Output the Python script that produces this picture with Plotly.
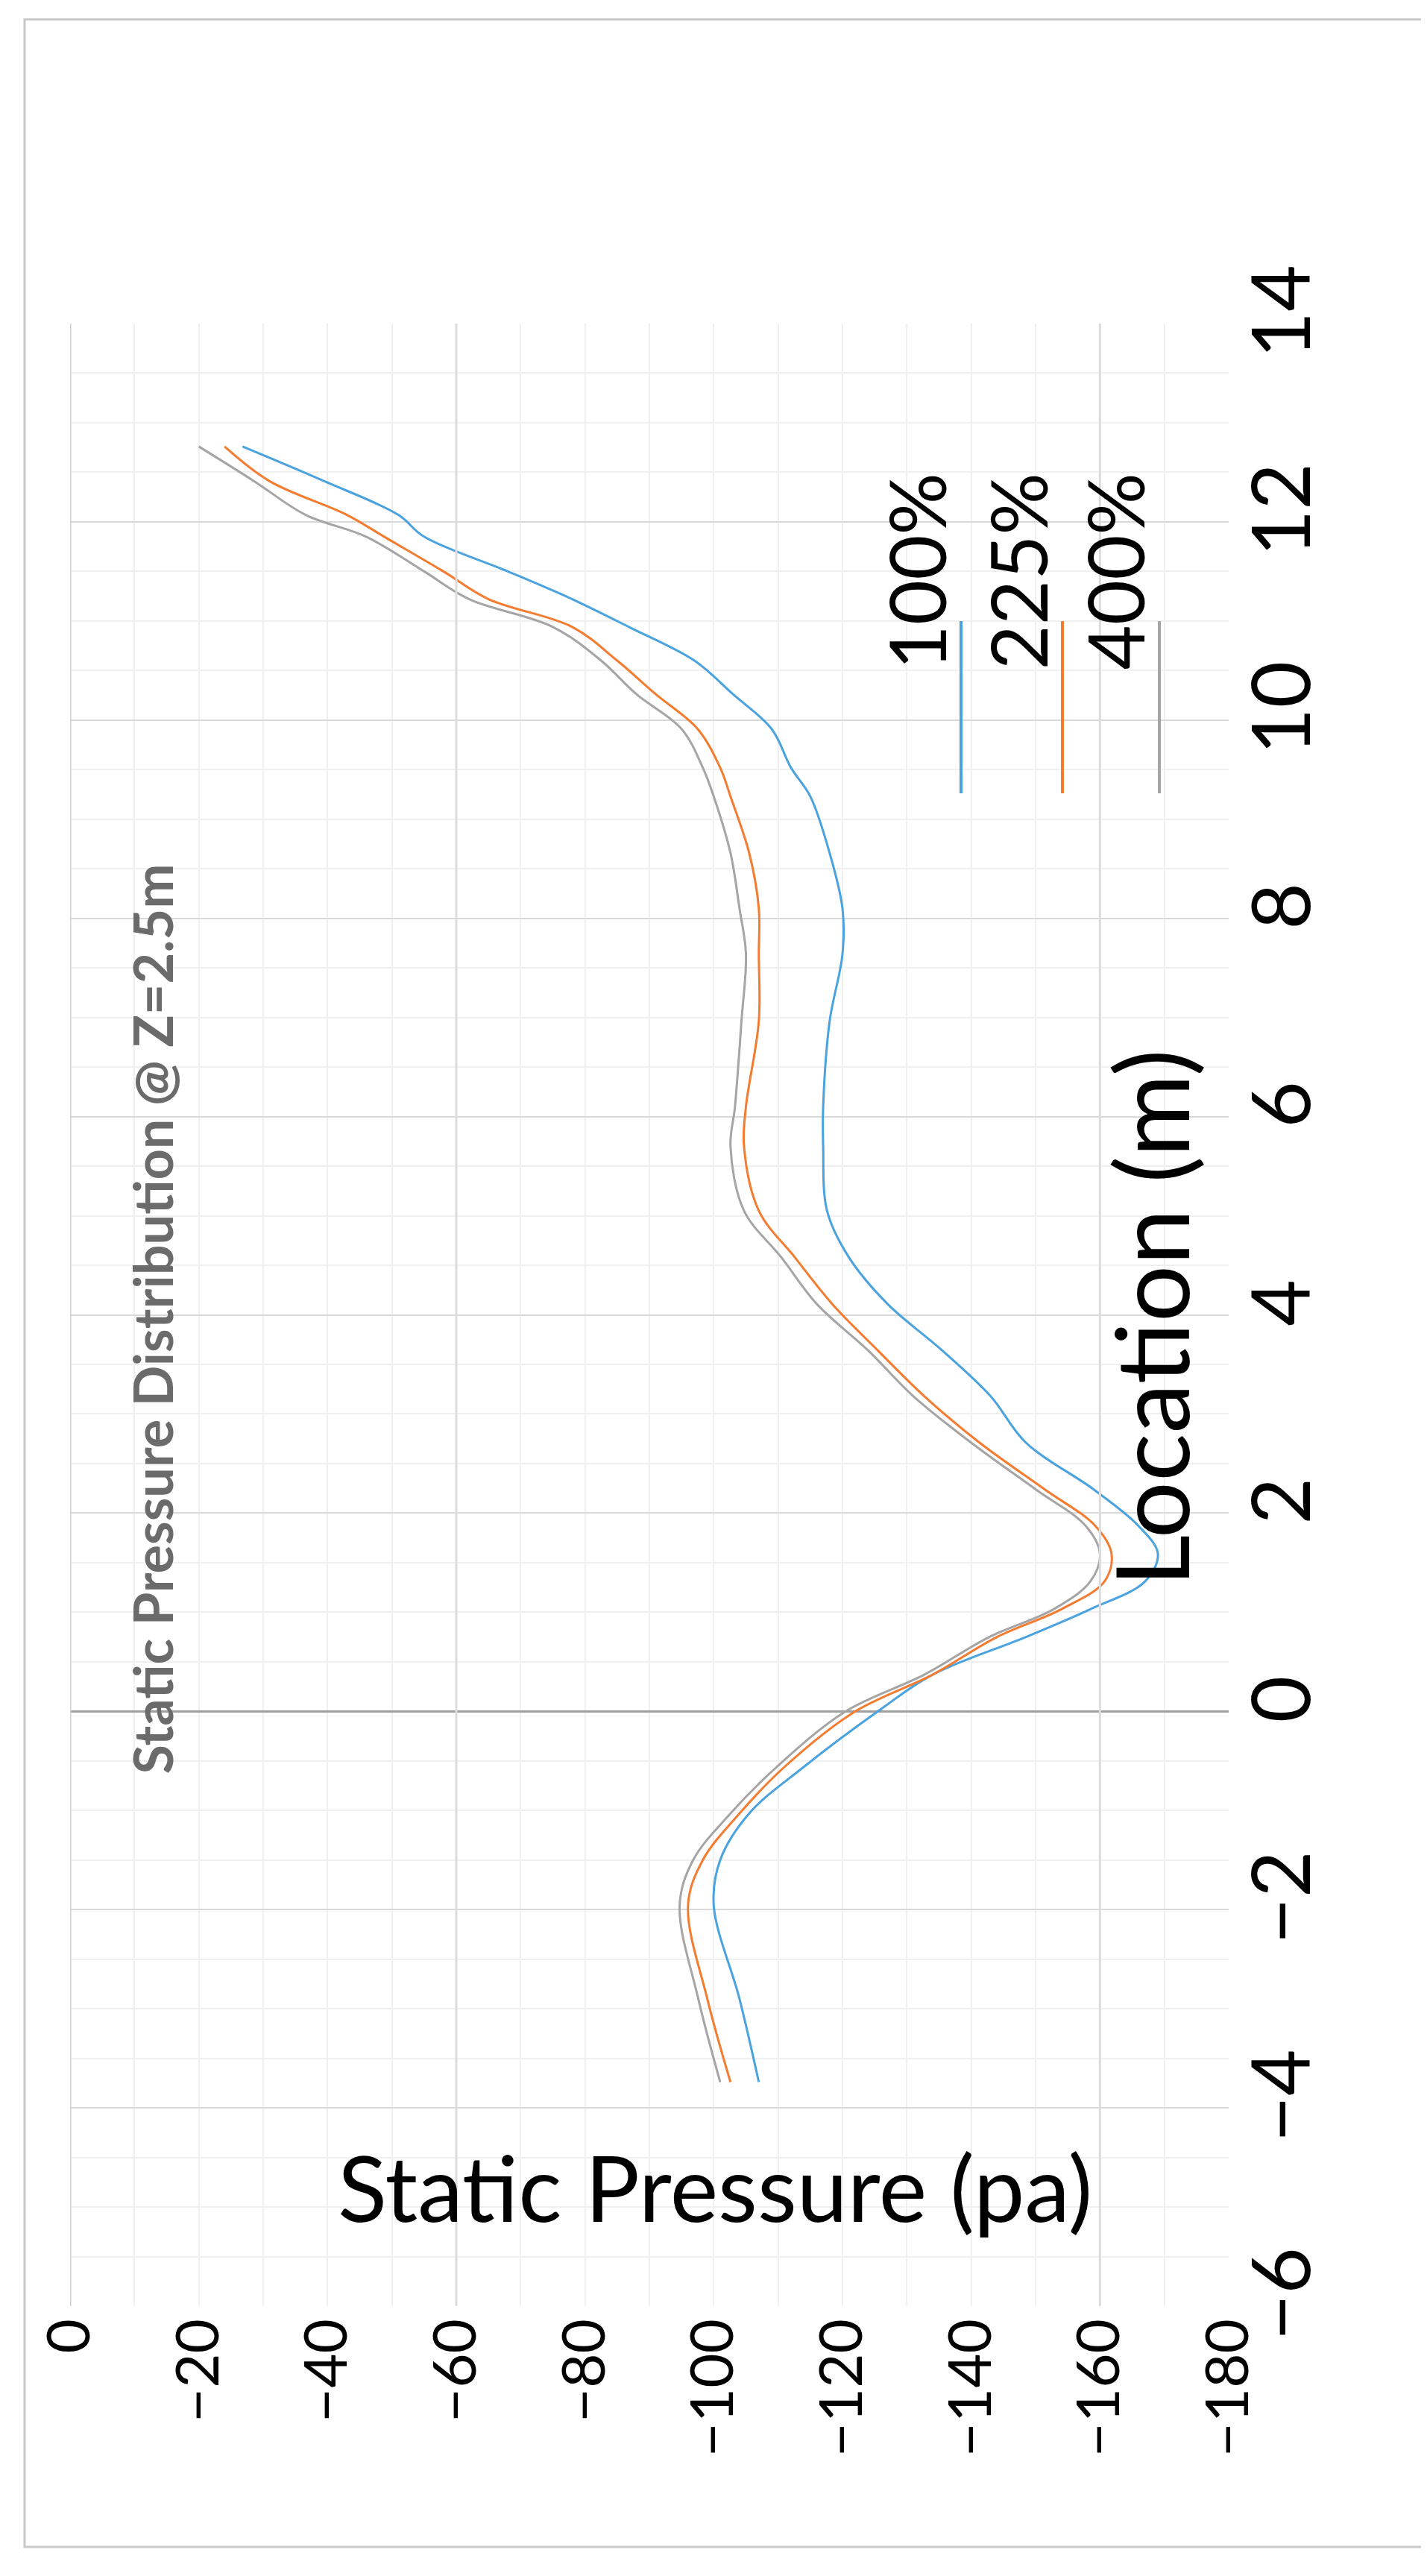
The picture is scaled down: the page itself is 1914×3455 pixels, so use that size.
import plotly.graph_objects as go

# location (m) along the vertical axis, static pressure (pa) along the horizontal one
loc_low = [-3.74, -2.9, -1.96, -1.5, -1.03, -0.56, 0.0, 0.37, 0.75, 1.03, 1.31, 1.59,
           1.87, 2.24, 2.71, 3.18, 3.64, 4.11, 4.58, 5.05, 5.7]
loc_high = [6.1, 6.96, 7.64, 8.1, 8.66, 9.23, 9.52, 9.91, 10.26, 10.6, 10.94, 11.22,
            11.5, 11.85, 12.07, 12.41, 12.76]
location = loc_low + loc_high

p100 = [-107, -104, -100, -101, -105.5, -114, -125.5, -134, -148.5, -158.5, -167, -169,
        -166, -159, -148.5, -143, -135.5, -127, -121, -117.6, -117,
        -117, -118, -120, -120, -118, -115, -112, -109, -103, -97, -86.8, -78,
        -68, -55, -51, -39.5, -26.8]
p225 = [-102.6, -99, -96, -98.3, -104, -111, -122, -134, -144, -154, -160.7, -161.8,
        -159.3, -151.4, -141.3, -132.7, -125.5, -118.4, -112.6, -107, -104.7,
        -105, -107, -107, -107, -105.5, -102.6, -101, -97.5, -91, -85, -78, -65,
        -58, -48.8, -43, -31, -24]
p400 = [-101, -97.6, -94.7, -96.8, -102.6, -109.8, -120.5, -132.7, -142.8, -152.8, -158.5, -160,
        -157.8, -150, -140, -131, -124, -116, -110.5, -104.7, -102.6,
        -103.3, -104.3, -105, -104, -102.6, -100, -98.3, -95, -88, -82.5, -75, -62,
        -55, -46, -36.6, -28.6, -20]

series = [("100%", p100, "#4aa3df"), ("225%", p225, "#f47c30"), ("400%", p400, "#a5a5a5")]
x_ticks = list(range(0, -181, -20))
y_ticks = list(range(-6, 15, 2))

W, H = 1914, 3455
L, R, T, B = 86, 1640, 426, 3085


def px(v):
    return (v - L) / (R - L)


def py(v):
    return (B - v) / (B - T)


fig = go.Figure()
for name, vals, col in series:
    fig.add_trace(go.Scatter(x=vals, y=location, mode="lines", name=name,
                             line=dict(color=col, width=3, shape="spline"),
                             showlegend=False))

font = "Lato, 'Open Sans', sans-serif"
fig.update_layout(
    width=W, height=H, plot_bgcolor="white", paper_bgcolor="white",
    margin=dict(l=L, r=W - R, t=T, b=H - B),
    font=dict(family=font, color="black"),
    xaxis=dict(range=[0, -180], tickvals=x_ticks, tickangle=-90, ticks="",
               tickfont=dict(size=80), showgrid=False,
               minor=dict(dtick=10, showgrid=True, gridcolor="#f0f0f0", gridwidth=2),
               zeroline=False, showline=False),
    yaxis=dict(range=[-6, 14], tickvals=y_ticks, side="right", tickangle=-90, ticks="",
               tickfont=dict(size=108), showgrid=True, gridcolor="#d9d9d9", gridwidth=2,
               minor=dict(dtick=0.5, showgrid=True, gridcolor="#f0f0f0", gridwidth=2),
               zeroline=True, zerolinecolor="#a0a0a0", zerolinewidth=3, showline=False),
)

for v in (-60, -160):
    fig.add_vline(x=v, line=dict(color="#dcdcdc", width=3))
fig.add_vline(x=0, line=dict(color="#d0d0d0", width=3))

# outer frame
fig.add_shape(type="rect", xref="paper", yref="paper",
              x0=px(25), x1=px(1905), y0=py(3408), y1=py(18),
              line=dict(color="#c8c8c8", width=3))

fig.add_annotation(text="Static Pressure (pa)", xref="paper", yref="paper",
                   x=px(951), y=py(3000), showarrow=False, font=dict(size=122))
fig.add_annotation(text="Location (m)", xref="paper", yref="paper", textangle=-90,
                   x=px(1618), y=py(1760), showarrow=False, font=dict(size=135))
fig.add_annotation(text="<b>Static Pressure Distribution @ Z=2.5m</b>", xref="paper",
                   yref="paper", textangle=-90, x=px(150), y=py(2374), showarrow=False,
                   font=dict(size=72, color="#6b6b6b"))

# legend, drawn rotated like the rest of the chart
for (name, vals, col), lx in zip(series, (1284, 1420, 1550)):
    fig.add_annotation(text=name, xref="paper", yref="paper", textangle=-90,
                       x=px(lx), y=py(625), showarrow=False, font=dict(size=104))
    fig.add_shape(type="line", xref="paper", yref="paper",
                  x0=px(lx - 3), x1=px(lx - 3), y0=py(825), y1=py(1056),
                  line=dict(color=col, width=4))

fig.write_html("out.html")
